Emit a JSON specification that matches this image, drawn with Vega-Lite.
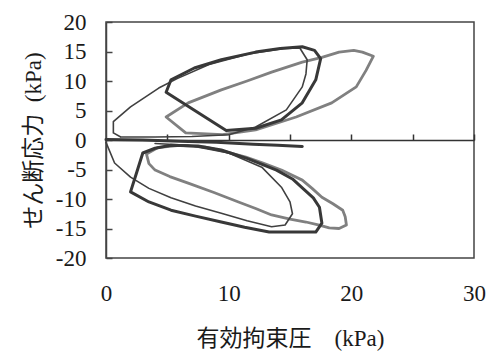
{
  "$schema": "https://vega.github.io/schema/vega-lite/v6.json",
  "width": 368,
  "height": 236,
  "autosize": "none",
  "padding": {"left": 106, "top": 22, "right": 19, "bottom": 99},
  "background": "white",
  "config": {"view": {"stroke": "#444", "strokeWidth": 1.5}, "font": "Liberation Serif"},
  "datasets": {
    "paths": [
      {"s":"S1","k":"thick","o":1,"x":9.8,"y":1.6},
      {"s":"S1","k":"thick","o":2,"x":7.3,"y":4.9},
      {"s":"S1","k":"thick","o":3,"x":4.9,"y":8.1},
      {"s":"S1","k":"thick","o":4,"x":5.3,"y":10.2},
      {"s":"S1","k":"thick","o":5,"x":7.2,"y":12.2},
      {"s":"S1","k":"thick","o":6,"x":9.4,"y":13.6},
      {"s":"S1","k":"thick","o":7,"x":12.2,"y":14.9},
      {"s":"S1","k":"thick","o":8,"x":14.2,"y":15.5},
      {"s":"S1","k":"thick","o":9,"x":16.0,"y":15.8},
      {"s":"S1","k":"thick","o":10,"x":17.0,"y":15.2},
      {"s":"S1","k":"thick","o":11,"x":17.5,"y":13.8},
      {"s":"S1","k":"thick","o":12,"x":17.1,"y":10.2},
      {"s":"S1","k":"thick","o":13,"x":16.0,"y":6.3},
      {"s":"S1","k":"thick","o":14,"x":14.3,"y":3.4},
      {"s":"S1","k":"thick","o":15,"x":12.2,"y":2.0},
      {"s":"S1","k":"thick","o":16,"x":9.8,"y":1.6},

      {"s":"S2","k":"thin","o":1,"x":1.2,"y":0.5},
      {"s":"S2","k":"thin","o":2,"x":0.6,"y":1.2},
      {"s":"S2","k":"thin","o":3,"x":0.6,"y":3.1},
      {"s":"S2","k":"thin","o":4,"x":2.0,"y":5.6},
      {"s":"S2","k":"thin","o":5,"x":4.3,"y":8.8},
      {"s":"S2","k":"thin","o":6,"x":5.8,"y":10.4},
      {"s":"S2","k":"thin","o":7,"x":8.4,"y":12.8},
      {"s":"S2","k":"thin","o":8,"x":11.6,"y":14.6},
      {"s":"S2","k":"thin","o":9,"x":14.5,"y":15.5},
      {"s":"S2","k":"thin","o":10,"x":15.8,"y":15.6},
      {"s":"S2","k":"thin","o":11,"x":16.4,"y":13.6},
      {"s":"S2","k":"thin","o":12,"x":16.3,"y":11.2},
      {"s":"S2","k":"thin","o":13,"x":16.0,"y":9.0},
      {"s":"S2","k":"thin","o":14,"x":14.7,"y":5.1},
      {"s":"S2","k":"thin","o":15,"x":12.2,"y":2.2},
      {"s":"S2","k":"thin","o":16,"x":10.0,"y":0.9},
      {"s":"S2","k":"thin","o":17,"x":7.0,"y":0.6},
      {"s":"S2","k":"thin","o":18,"x":4.0,"y":0.5},
      {"s":"S2","k":"thin","o":19,"x":1.2,"y":0.5},

      {"s":"S3","k":"gray","o":1,"x":4.9,"y":3.9},
      {"s":"S3","k":"gray","o":2,"x":6.7,"y":6.3},
      {"s":"S3","k":"gray","o":3,"x":9.4,"y":8.5},
      {"s":"S3","k":"gray","o":4,"x":11.5,"y":10.0},
      {"s":"S3","k":"gray","o":5,"x":13.5,"y":11.5},
      {"s":"S3","k":"gray","o":6,"x":16.0,"y":13.2},
      {"s":"S3","k":"gray","o":7,"x":17.6,"y":14.0},
      {"s":"S3","k":"gray","o":8,"x":19.0,"y":14.9},
      {"s":"S3","k":"gray","o":9,"x":20.2,"y":15.2},
      {"s":"S3","k":"gray","o":10,"x":20.9,"y":14.9},
      {"s":"S3","k":"gray","o":11,"x":21.8,"y":14.2},
      {"s":"S3","k":"gray","o":12,"x":21.2,"y":11.8},
      {"s":"S3","k":"gray","o":13,"x":20.4,"y":9.0},
      {"s":"S3","k":"gray","o":14,"x":18.4,"y":6.3},
      {"s":"S3","k":"gray","o":15,"x":15.5,"y":3.9},
      {"s":"S3","k":"gray","o":16,"x":12.2,"y":1.7},
      {"s":"S3","k":"gray","o":17,"x":9.5,"y":0.9},
      {"s":"S3","k":"gray","o":18,"x":6.5,"y":1.2},
      {"s":"S3","k":"gray","o":19,"x":4.9,"y":3.9},

      {"s":"S4","k":"thick","o":1,"x":3.0,"y":-2.2},
      {"s":"S4","k":"thick","o":2,"x":4.0,"y":-1.4},
      {"s":"S4","k":"thick","o":3,"x":5.3,"y":-0.9},
      {"s":"S4","k":"thick","o":4,"x":7.5,"y":-1.0},
      {"s":"S4","k":"thick","o":5,"x":9.4,"y":-1.7},
      {"s":"S4","k":"thick","o":6,"x":11.6,"y":-3.2},
      {"s":"S4","k":"thick","o":7,"x":13.9,"y":-5.1},
      {"s":"S4","k":"thick","o":8,"x":15.2,"y":-6.6},
      {"s":"S4","k":"thick","o":9,"x":16.0,"y":-8.1},
      {"s":"S4","k":"thick","o":10,"x":16.9,"y":-9.8},
      {"s":"S4","k":"thick","o":11,"x":17.4,"y":-11.4},
      {"s":"S4","k":"thick","o":12,"x":17.6,"y":-14.1},
      {"s":"S4","k":"thick","o":13,"x":17.1,"y":-15.6},
      {"s":"S4","k":"thick","o":14,"x":15.0,"y":-15.6},
      {"s":"S4","k":"thick","o":15,"x":13.3,"y":-15.6},
      {"s":"S4","k":"thick","o":16,"x":11.3,"y":-14.8},
      {"s":"S4","k":"thick","o":17,"x":9.4,"y":-13.9},
      {"s":"S4","k":"thick","o":18,"x":7.3,"y":-12.9},
      {"s":"S4","k":"thick","o":19,"x":5.3,"y":-11.9},
      {"s":"S4","k":"thick","o":20,"x":3.5,"y":-10.5},
      {"s":"S4","k":"thick","o":21,"x":2.0,"y":-8.8},
      {"s":"S4","k":"thick","o":22,"x":2.5,"y":-5.5},
      {"s":"S4","k":"thick","o":23,"x":3.0,"y":-2.2},

      {"s":"S5","k":"thin","o":1,"x":0.0,"y":-0.4},
      {"s":"S5","k":"thin","o":2,"x":0.7,"y":-3.9},
      {"s":"S5","k":"thin","o":3,"x":2.0,"y":-6.3},
      {"s":"S5","k":"thin","o":4,"x":3.5,"y":-8.2},
      {"s":"S5","k":"thin","o":5,"x":5.3,"y":-9.8},
      {"s":"S5","k":"thin","o":6,"x":7.3,"y":-11.2},
      {"s":"S5","k":"thin","o":7,"x":9.4,"y":-12.4},
      {"s":"S5","k":"thin","o":8,"x":11.5,"y":-13.7},
      {"s":"S5","k":"thin","o":9,"x":13.5,"y":-14.7},
      {"s":"S5","k":"thin","o":10,"x":14.6,"y":-14.4},
      {"s":"S5","k":"thin","o":11,"x":15.2,"y":-12.5},
      {"s":"S5","k":"thin","o":12,"x":15.0,"y":-10.5},
      {"s":"S5","k":"thin","o":13,"x":14.3,"y":-8.0},
      {"s":"S5","k":"thin","o":14,"x":12.7,"y":-4.6},
      {"s":"S5","k":"thin","o":15,"x":10.0,"y":-2.2},
      {"s":"S5","k":"thin","o":16,"x":6.7,"y":-0.9},
      {"s":"S5","k":"thin","o":17,"x":4.0,"y":-0.6},

      {"s":"S6","k":"gray","o":1,"x":3.3,"y":-2.4},
      {"s":"S6","k":"gray","o":2,"x":3.5,"y":-4.0},
      {"s":"S6","k":"gray","o":3,"x":4.0,"y":-5.1},
      {"s":"S6","k":"gray","o":4,"x":5.2,"y":-6.2},
      {"s":"S6","k":"gray","o":5,"x":6.7,"y":-7.3},
      {"s":"S6","k":"gray","o":6,"x":8.8,"y":-8.9},
      {"s":"S6","k":"gray","o":7,"x":10.8,"y":-10.5},
      {"s":"S6","k":"gray","o":8,"x":12.2,"y":-11.6},
      {"s":"S6","k":"gray","o":9,"x":13.5,"y":-12.7},
      {"s":"S6","k":"gray","o":10,"x":15.0,"y":-13.4},
      {"s":"S6","k":"gray","o":11,"x":16.3,"y":-13.9},
      {"s":"S6","k":"gray","o":12,"x":17.3,"y":-14.4},
      {"s":"S6","k":"gray","o":13,"x":18.2,"y":-14.9},
      {"s":"S6","k":"gray","o":14,"x":19.0,"y":-15.0},
      {"s":"S6","k":"gray","o":15,"x":19.6,"y":-14.4},
      {"s":"S6","k":"gray","o":16,"x":19.5,"y":-13.0},
      {"s":"S6","k":"gray","o":17,"x":19.3,"y":-11.9},
      {"s":"S6","k":"gray","o":18,"x":18.5,"y":-10.8},
      {"s":"S6","k":"gray","o":19,"x":17.6,"y":-9.7},
      {"s":"S6","k":"gray","o":20,"x":16.8,"y":-8.2},
      {"s":"S6","k":"gray","o":21,"x":16.0,"y":-6.8},
      {"s":"S6","k":"gray","o":22,"x":14.3,"y":-5.1},
      {"s":"S6","k":"gray","o":23,"x":12.8,"y":-3.9},
      {"s":"S6","k":"gray","o":24,"x":11.4,"y":-2.9},
      {"s":"S6","k":"gray","o":25,"x":9.8,"y":-2.0},
      {"s":"S6","k":"gray","o":26,"x":8.1,"y":-1.2},
      {"s":"S6","k":"gray","o":27,"x":6.0,"y":-0.9},
      {"s":"S6","k":"gray","o":28,"x":4.2,"y":-1.3},
      {"s":"S6","k":"gray","o":29,"x":3.3,"y":-2.4},

      {"s":"S7","k":"thick","o":1,"x":0.0,"y":0.1},
      {"s":"S7","k":"thick","o":2,"x":3.0,"y":0.0},
      {"s":"S7","k":"thick","o":3,"x":6.0,"y":-0.2},
      {"s":"S7","k":"thick","o":4,"x":9.0,"y":-0.4},
      {"s":"S7","k":"thick","o":5,"x":12.0,"y":-0.7},
      {"s":"S7","k":"thick","o":6,"x":14.0,"y":-0.9},
      {"s":"S7","k":"thick","o":7,"x":16.0,"y":-1.1}
    ]
  },
  "data": {"name": "paths"},
  "encoding": {
    "y": {
      "field": "y", "type": "quantitative",
      "scale": {"domain": [-20, 20], "nice": false},
      "axis": {
        "orient": "left", "values": [-20, -15, -10, -5, 0, 5, 10, 15, 20],
        "labelExpr": "datum.value + ''", "grid": false, "labelFlush": false,
        "domainColor": "#444", "domainWidth": 1.5,
        "tickColor": "#444", "tickSize": -6, "tickWidth": 1.5,
        "labelPadding": 26, "labelFontSize": 23, "labelFont": "Liberation Serif", "labelColor": "#1a1a1a",
        "title": "せん断応力\u2002(kPa)", "titleFont": "Liberation Serif, Noto Sans CJK JP",
        "titleFontSize": 23, "titleFontWeight": "normal", "titlePadding": 10, "titleColor": "#1a1a1a"
      }
    },
    "detail": {"field": "s"},
    "order": {"field": "o", "type": "quantitative"}
  },
  "layer": [
    {
      "mark": {"type": "point", "opacity": 0},
      "encoding": {
        "x": {
          "field": "x", "type": "quantitative",
          "scale": {"domain": [0, 30], "nice": false, "zero": false},
          "axis": {
            "orient": "top", "offset": -118, "values": [5, 10, 15, 20, 25, 30],
            "labels": false, "title": null, "grid": false,
            "domainColor": "#333", "domainWidth": 1.5,
            "tickColor": "#333", "tickSize": 6, "tickWidth": 1.5
          }
        }
      }
    },
    {
      "transform": [{"filter": "datum.k === 'gray'"}],
      "mark": {"type": "line", "strokeJoin": "round", "strokeCap": "round", "color": "#808080", "strokeWidth": 2.8},
      "encoding": {
        "x": {
          "field": "x", "type": "quantitative",
          "scale": {"domain": [0, 30], "nice": false, "zero": false},
          "axis": {
            "orient": "bottom", "values": [0, 10, 20, 30], "domain": false, "ticks": false, "grid": false,
            "labelFlush": false,
            "labelPadding": 24, "labelFontSize": 23, "labelFont": "Liberation Serif", "labelColor": "#1a1a1a",
            "title": "有効拘束圧　(kPa)", "titleFont": "Liberation Serif, Noto Sans CJK JP",
            "titleFontSize": 23, "titleFontWeight": "normal", "titlePadding": 22, "titleColor": "#1a1a1a"
          }
        }
      }
    },
    {
      "transform": [{"filter": "datum.k === 'thin'"}],
      "mark": {"type": "line", "strokeJoin": "round", "strokeCap": "round", "color": "#404040", "strokeWidth": 1.6},
      "encoding": {
        "x": {"field": "x", "type": "quantitative", "axis": null}
      }
    },
    {
      "transform": [{"filter": "datum.k === 'thick'"}],
      "mark": {"type": "line", "strokeJoin": "round", "strokeCap": "round", "color": "#383838", "strokeWidth": 3},
      "encoding": {
        "x": {"field": "x", "type": "quantitative", "axis": null}
      }
    }
  ],
  "resolve": {"axis": {"x": "independent"}}
}
